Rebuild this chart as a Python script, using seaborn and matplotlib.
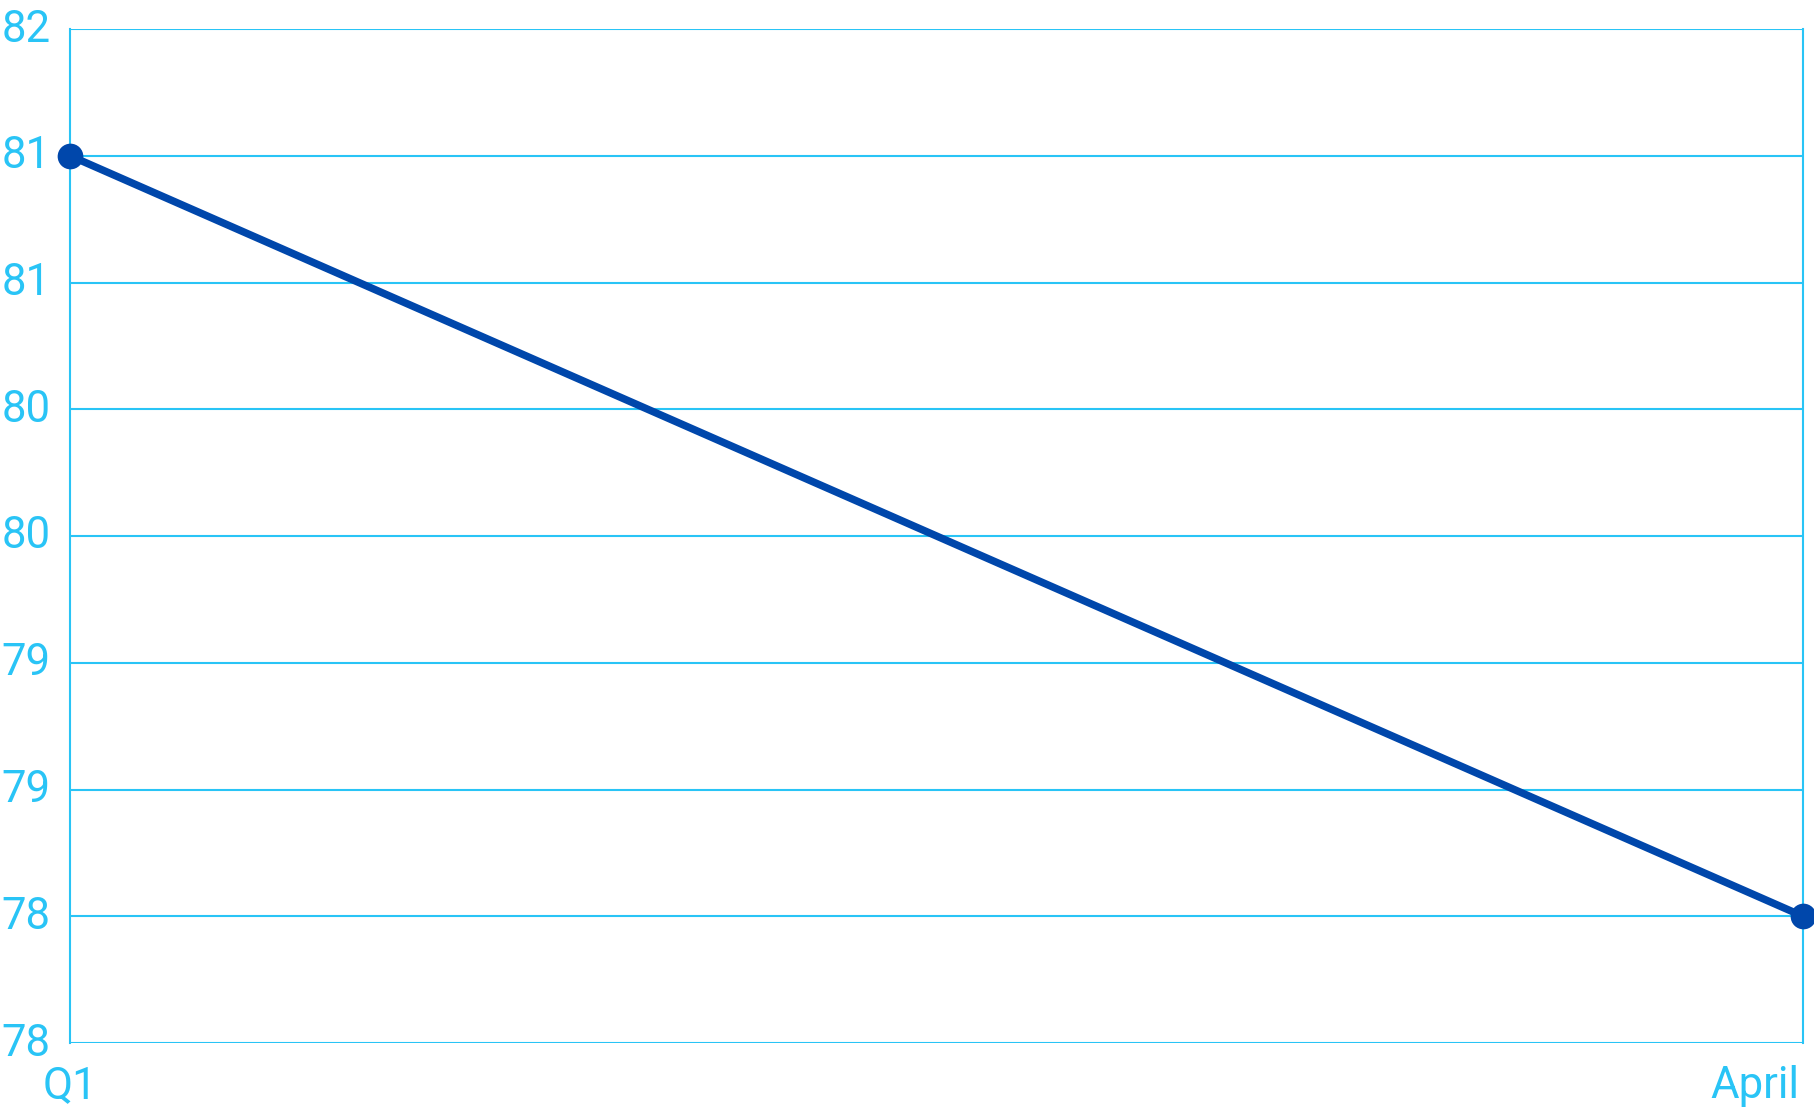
import numpy as np
import pandas as pd
import matplotlib
matplotlib.use("Agg")
import matplotlib.pyplot as plt
import matplotlib.transforms as mtransforms
import seaborn as sns

# values
periods = ["Q1", "April"]
scores = [81.5, 78.5]
y_ticks = [78, 78.5, 79, 79.5, 80, 80.5, 81, 81.5, 82]

light_blue = "#29C4F6"
dark_blue = "#0047AB"

sns.set_theme(style="white")
plt.rcParams["font.family"] = ["Roboto", "DejaVu Sans"]

df = pd.DataFrame({"period": periods, "score": scores})

fig = plt.figure(figsize=(18.15, 11.08), dpi=100)
ax = fig.add_axes([70 / 1815, 1 - 1043 / 1108, (1803 - 70) / 1815, (1043 - 29) / 1108])

sns.lineplot(data=df, x="period", y="score", ax=ax, color=dark_blue,
             linewidth=5.4, marker="o", markersize=18.5, markeredgewidth=0,
             clip_on=False, zorder=5)

ax.set_xlim(0, 1)
ax.set_ylim(78, 82)
ax.set_yticks(y_ticks)
# labels in the reference are truncated to whole numbers
ax.set_yticklabels([str(int(v)) for v in y_ticks])
ax.set_xticks([0, 1])
ax.set_xticklabels(periods)
ax.xaxis.get_ticklabels()[1].set_horizontalalignment("right")

ax.grid(axis="y", color=light_blue, linewidth=1.5)
ax.set_axisbelow(True)
for side in ["top", "bottom"]:
    ax.spines[side].set_visible(False)
for side in ["left", "right"]:
    ax.spines[side].set_color(light_blue)
    ax.spines[side].set_linewidth(1.5)

ax.tick_params(axis="both", length=0, labelsize=31.5, labelcolor=light_blue)
ax.tick_params(axis="y", pad=14)
ax.tick_params(axis="x", pad=16)

# small nudges so labels sit like the reference
up = mtransforms.ScaledTranslation(0, 4 / 100, fig.dpi_scale_trans)
for t in ax.yaxis.get_major_ticks():
    t.label1.set_transform(t.label1.get_transform() + up)
left = mtransforms.ScaledTranslation(-4 / 100, 0, fig.dpi_scale_trans)
april_tick = ax.xaxis.get_major_ticks()[1]
april_tick.label1.set_transform(april_tick.label1.get_transform() + left)

ax.set_xlabel("")
ax.set_ylabel("")

fig.savefig("out.png", dpi=100)
